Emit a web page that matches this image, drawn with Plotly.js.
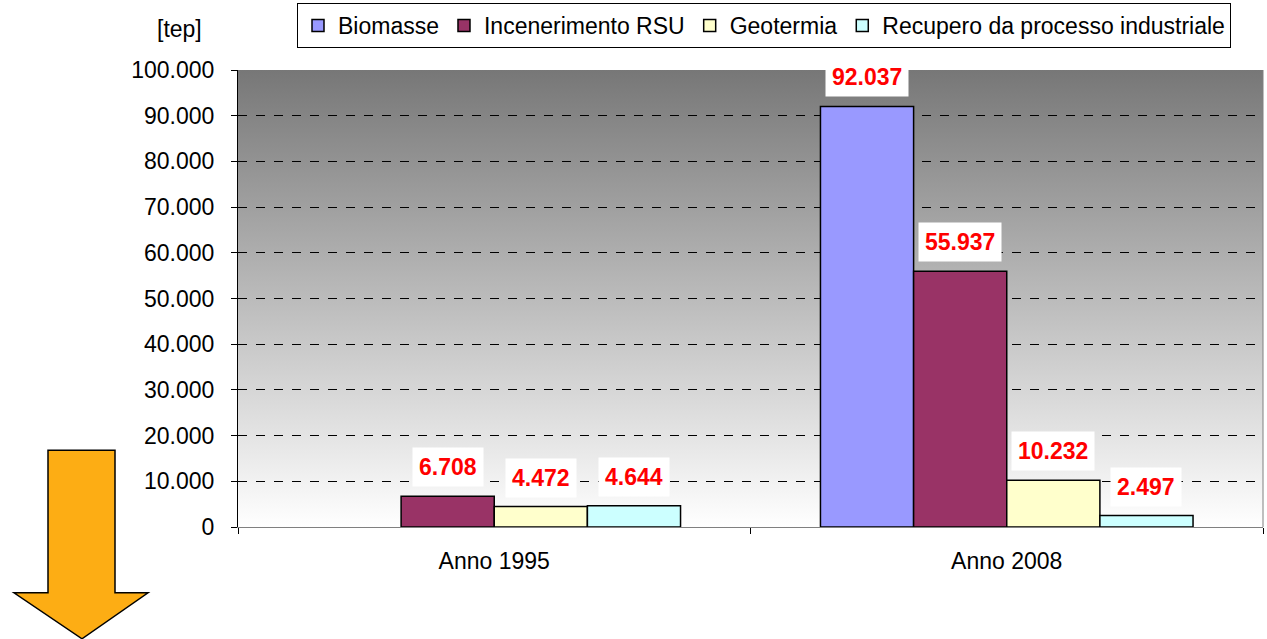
<!DOCTYPE html>
<html>
<head>
<meta charset="utf-8">
<script src="https://cdn.plot.ly/plotly-3.0.1.min.js"></script>
<style>
  html, body { margin: 0; padding: 0; background: #fff; }
  #chart { width: 1267px; height: 639px; }
</style>
</head>
<body>
<div id="chart"></div>
<script>
// data
var years = ['Anno 1995', 'Anno 2008'];
var seriesNames = ['Biomasse', 'Incenerimento RSU', 'Geotermia', 'Recupero da processo industriale'];
var biomasse = [null, 92037];
var incenerimento = [6708, 55937];
var geotermia = [4472, 10232];
var recupero = [4644, 2497];
var yTicks = [0, 10000, 20000, 30000, 40000, 50000, 60000, 70000, 80000, 90000, 100000];

var colors = ['#9999FF', '#993366', '#FFFFCC', '#CCFFFF'];
var allValues = [biomasse, incenerimento, geotermia, recupero];

var W = 1267, H = 639;
var M = {l: 238, r: 4, t: 69, b: 112};
var pw = W - M.l - M.r, ph = H - M.t - M.b;
function px(x) { return (x - M.l) / pw; }
function py(y) { return (H - M.b - y) / ph; }

var font = 'Arial, "Liberation Sans", sans-serif';

function fmt(v) {
  return String(v).replace(/\B(?=(\d{3})+(?!\d))/g, '.');
}

var data = allValues.map(function (vals, i) {
  return {
    type: 'bar',
    name: seriesNames[i],
    x: years,
    y: vals,
    marker: {color: colors[i], line: {color: '#000', width: 1.5}},
    hoverinfo: 'x+y+name'
  };
});

// value labels with white box
var barW = 93;
var annotations = [];
allValues.forEach(function (vals, i) {
  vals.forEach(function (v, j) {
    if (v === null) return;
    annotations.push({
      xref: 'x', yref: 'y', x: years[j], y: v,
      text: fmt(v),
      showarrow: false,
      xshift: (i - 1.5) * barW,
      yshift: 29,
      yanchor: 'middle',
      bgcolor: '#fff',
      borderpad: 6,
      font: {family: font, size: 23, color: '#FF0000', weight: 'bold'}
    });
  });
});
annotations.push({
  xref: 'paper', yref: 'paper', x: px(179), y: py(28),
  text: '[tep]', showarrow: false, xanchor: 'center', yanchor: 'middle',
  font: {family: font, size: 23, color: '#000'}
});

var bgSvg = '<svg xmlns="http://www.w3.org/2000/svg" width="10" height="100" preserveAspectRatio="none">' +
  '<defs><linearGradient id="g" x1="0" y1="0" x2="0" y2="1">' +
  '<stop offset="0" stop-color="#777777"/><stop offset="1" stop-color="#ffffff"/>' +
  '</linearGradient></defs><rect width="10" height="100" fill="url(#g)"/></svg>';

var arrowPts = [[48, 450], [115, 450], [115, 593], [148, 593], [82, 639], [14, 593], [48, 593]];
var arrowPath = 'M' + arrowPts.map(function (p) { return px(p[0]) + ',' + py(p[1]); }).join('L') + 'Z';

var layout = {
  width: W, height: H,
  margin: M,
  paper_bgcolor: '#fff',
  plot_bgcolor: 'rgba(0,0,0,0)',
  separators: ',.',
  barmode: 'group',
  bargap: 0.273,
  bargroupgap: 0,
  font: {family: font, size: 23, color: '#000'},
  showlegend: true,
  legend: {
    orientation: 'h',
    x: px(297), y: py(3), xanchor: 'left', yanchor: 'top',
    bordercolor: '#000', borderwidth: 1,
    bgcolor: '#fff',
    font: {family: font, size: 23, color: '#000'},
    traceorder: 'normal'
  },
  xaxis: {
    type: 'category',
    showgrid: false,
    showline: true, linecolor: '#808080', linewidth: 1,
    ticks: 'outside', tickson: 'boundaries', ticklen: 6, tickcolor: '#000',
    tickfont: {family: font, size: 23, color: '#000'},
    ticklabelstandoff: 13
  },
  yaxis: {
    range: [0, 100000],
    tickvals: yTicks,
    tickformat: ',d',
    showgrid: true, gridcolor: '#000', gridwidth: 1, griddash: 'dash',
    zeroline: false,
    showline: true, linecolor: '#000', linewidth: 1,
    ticks: 'outside', ticklen: 6, tickcolor: '#000',
    tickfont: {family: font, size: 23, color: '#000'},
    ticklabelstandoff: 12
  },
  images: [{
    source: 'data:image/svg+xml;utf8,' + encodeURIComponent(bgSvg),
    xref: 'paper', yref: 'paper', x: 0, y: 1, sizex: 1, sizey: 1,
    xanchor: 'left', yanchor: 'top', sizing: 'stretch', layer: 'below'
  }],
  shapes: [
    {type: 'line', xref: 'paper', yref: 'paper', x0: 1, x1: 1, y0: 0, y1: 1,
     line: {color: '#808080', width: 1}},
    {type: 'path', xref: 'paper', yref: 'paper', path: arrowPath,
     fillcolor: '#FDAD14', line: {color: '#000', width: 1.5}}
  ],
  annotations: annotations
};

Plotly.newPlot('chart', data, layout, {displayModeBar: false, responsive: false});
</script>
</body>
</html>
